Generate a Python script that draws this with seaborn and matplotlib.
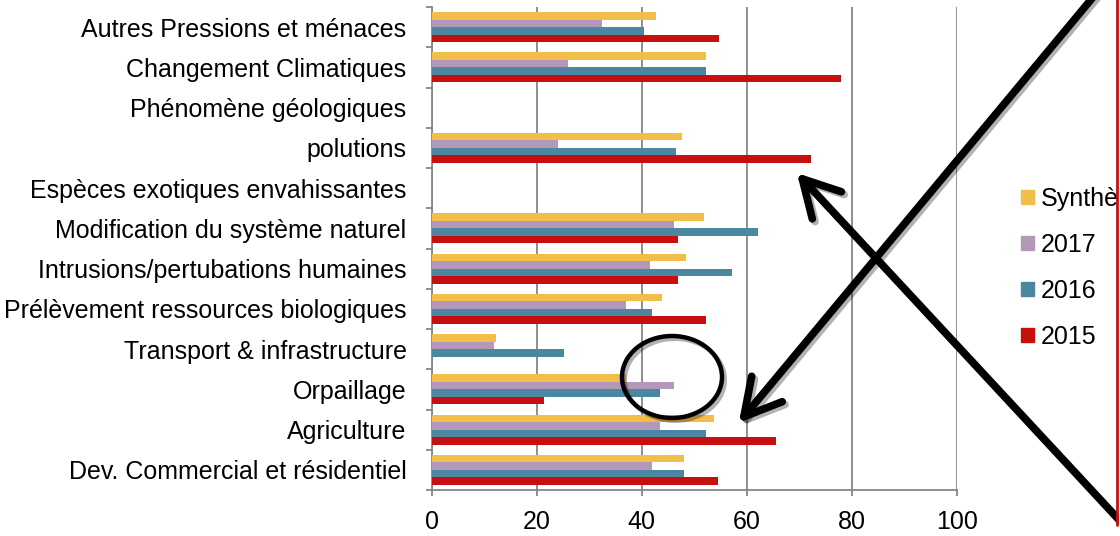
import pandas as pd
import seaborn as sns
import matplotlib
matplotlib.use("Agg")
import matplotlib.pyplot as plt
import matplotlib.patheffects as pe
from matplotlib.patches import FancyArrowPatch, Ellipse, Rectangle
from matplotlib.lines import Line2D


menaces = [
    "Autres Pressions et ménaces",
    "Changement Climatiques",
    "Phénomène géologiques",
    "polutions",
    "Espèces exotiques envahissantes",
    "Modification du système naturel",
    "Intrusions/pertubations humaines",
    "Prélèvement ressources biologiques",
    "Transport & infrastructure",
    "Orpaillage",
    "Agriculture",
    "Dev. Commercial et résidentiel",
]
synthese = [42.7, 52.2, 0, 47.6, 0, 51.8, 48.4, 43.8, 12.3, 37.0, 53.7, 48.0]
v2017 = [32.4, 26.0, 0, 24.0, 0, 46.1, 41.5, 37.0, 11.9, 46.1, 43.4, 41.9]
v2016 = [40.4, 52.2, 0, 46.5, 0, 62.1, 57.1, 41.9, 25.2, 43.4, 52.2, 48.0]
v2015 = [54.8, 78.0, 0, 72.3, 0, 46.9, 46.9, 52.2, 0, 21.4, 65.5, 54.5]

series = ["Synthèse", "2017", "2016", "2015"]
colors = ["#F2BE4A", "#B398BA", "#4B87A1", "#C80F10"]
x_ticks = [0, 20, 40, 60, 80, 100]

rows = []
for name, vals in zip(series, [synthese, v2017, v2016, v2015]):
    for m, v in zip(menaces, vals):
        rows.append({"menace": m, "serie": name, "valeur": v})
df = pd.DataFrame(rows)

sns.set_style("white")
plt.rcParams["font.family"] = ["Liberation Sans", "DejaVu Sans"]
plt.rcParams["text.color"] = "black"
plt.rcParams["xtick.color"] = "black"
plt.rcParams["ytick.color"] = "black"

W, H = 1120, 536
fig = plt.figure(figsize=(W / 100, H / 100), dpi=100)
ax = fig.add_axes([431.5 / W, 1 - 490 / H, 525.5 / W, 483 / H])

sns.barplot(data=df, y="menace", x="valeur", hue="serie", order=menaces,
            hue_order=series, palette=colors, orient="h", width=0.75,
            saturation=1, linewidth=0, errorbar=None, ax=ax, zorder=3)

grey = "#868686"
fs = 18
ax.set_xlim(0, 100)
ax.set_ylim(len(menaces) - 0.5, -0.5)
ax.set_xticks(x_ticks)
ax.set_xticklabels([str(t) for t in x_ticks])
ax.set_yticks(range(len(menaces)))
ax.set_yticks([i - 0.5 for i in range(len(menaces) + 1)], minor=True)
ax.set_xlabel("")
ax.set_ylabel("")
ax.grid(axis="x", color=grey, lw=1.3, zorder=0)
ax.set_axisbelow(True)
for s in ["top", "right"]:
    ax.spines[s].set_visible(False)
for s in ["left", "bottom"]:
    ax.spines[s].set_color(grey)
    ax.spines[s].set_linewidth(1.3)
ax.tick_params(axis="y", which="major", length=0, pad=18, labelsize=fs,
               labelcolor="black")
ax.tick_params(axis="y", which="minor", left=True, length=4, width=1.3, color=grey)
ax.tick_params(axis="x", which="major", bottom=True, length=4, width=1.3, color=grey,
               pad=10.5, labelsize=fs, labelcolor="black")

handles = [Rectangle((0, 0), 1, 1, color=c) for c in colors]
ax.legend(handles, series, loc="upper left", bbox_to_anchor=(1021 / W, 1 - 187 / H),
          bbox_transform=fig.transFigure, frameon=False, fontsize=fs,
          handlelength=0.5, handleheight=0.5, handletextpad=0.3,
          labelspacing=0.88, borderpad=0, borderaxespad=0, labelcolor="black")


def fp(x, y):
    return (x / W, 1 - y / H)


shadow = [pe.SimpleLineShadow(offset=(2, -2), alpha=0.3), pe.Normal()]

# croix / flèches
for start, tip in [((1099, -10), (737, 425)), ((1121, 522), (795, 171))]:
    arr = FancyArrowPatch(fp(*start), fp(*tip), transform=fig.transFigure,
                          arrowstyle="->,head_length=1.0,head_width=0.55",
                          mutation_scale=26, lw=5.5, color="black",
                          capstyle="round", joinstyle="round", zorder=10)
    arr.set_path_effects(shadow)
    fig.add_artist(arr)

ell = Ellipse(fp(672, 377), 100 / W, 82 / H, transform=fig.transFigure,
              fill=False, lw=3.2, edgecolor="black", zorder=10)
ell.set_path_effects(shadow)
fig.add_artist(ell)

# cadre rouge à droite
fig.add_artist(Rectangle((1118.5 / W, 0), 2 / W, 1, transform=fig.transFigure,
                         color="white", zorder=11))
fig.add_artist(Line2D([1117 / W, 1117 / W], [1 - 525 / H, 1], transform=fig.transFigure,
                      color="#C80F10", lw=2, zorder=12))

fig.savefig("out.png", dpi=100)
